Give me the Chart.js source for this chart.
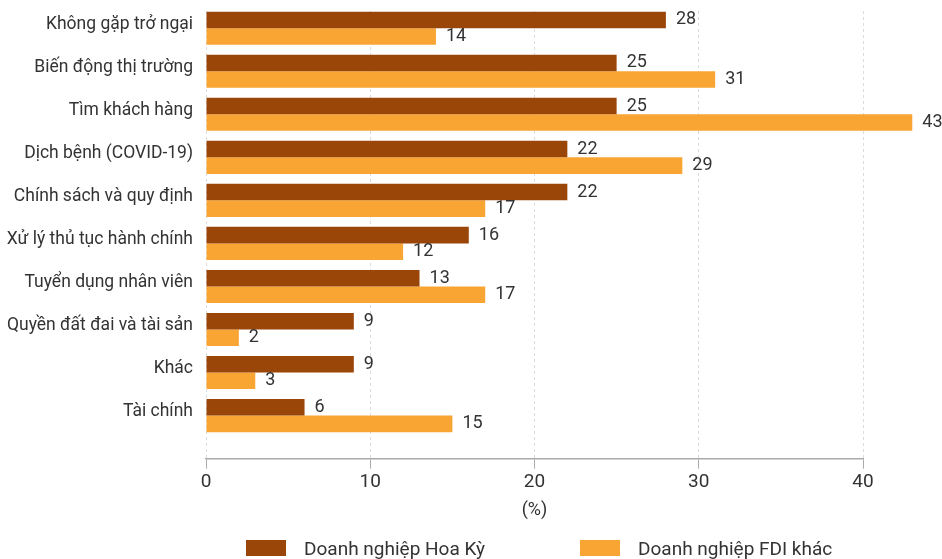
<!DOCTYPE html>
<html>
<head>
<meta charset="utf-8">
<script src="https://cdn.jsdelivr.net/npm/chart.js@4"></script>
<style>
  html, body { margin: 0; padding: 0; background: #fff; }
  #wrap { position: relative; width: 942px; height: 559px; }
  #legend { position: absolute; left: 0; top: 539px; width: 942px; height: 20px;
            font-family: Roboto, sans-serif; font-size: 19px; color: #333; }
  .item { position: absolute; top: 0; display: flex; align-items: center; height: 18px; white-space: nowrap; }
  .box { width: 40px; height: 16px; margin-right: 18px; }
</style>
</head>
<body>
<div id="wrap">
  <canvas id="obstacleChart"></canvas>
  <div id="legend"></div>
</div>
<script>
const categories = [
    'Không gặp trở ngại',
    'Biến động thị trường',
    'Tìm khách hàng',
    'Dịch bệnh (COVID-19)',
    'Chính sách và quy định',
    'Xử lý thủ tục hành chính',
    'Tuyển dụng nhân viên',
    'Quyền đất đai và tài sản',
    'Khác',
    'Tài chính'
];
const usFirms = [28, 25, 25, 22, 22, 16, 13, 9, 9, 6];
const otherFdi = [14, 31, 43, 29, 17, 12, 17, 2, 3, 15];
const xTicks = [0, 10, 20, 30, 40];
const seriesNames = ['Doanh nghiệp Hoa Kỳ', 'Doanh nghiệp FDI khác'];
const seriesColors = ['#9B4609', '#F9A533'];

const FONT = "Roboto, sans-serif";
const TEXT = '#333';

// draws the number right of each bar
const valueLabels = {
    id: 'valueLabels',
    afterDatasetsDraw(chart) {
        const ctx = chart.ctx;
        ctx.save();
        ctx.font = '18px ' + FONT;
        ctx.fillStyle = TEXT;
        ctx.textAlign = 'left';
        ctx.textBaseline = 'middle';
        chart.data.datasets.forEach((ds, i) => {
            chart.getDatasetMeta(i).data.forEach((bar, j) => {
                ctx.fillText(ds.data[j].x, bar.x + 10, bar.y);
            });
        });
        ctx.restore();
    }
};

const toPoints = arr => arr.map((v, i) => ({ x: v, y: i }));

const data = {
    datasets: [usFirms, otherFdi].map((arr, i) => ({
        label: seriesNames[i],
        data: toPoints(arr),
        backgroundColor: seriesColors[i],
        categoryPercentage: 0.77,
        barPercentage: 1,
        clip: false
    }))
};

const config = {
    type: 'bar',
    data: data,
    options: {
        indexAxis: 'y',
        responsive: true,
        maintainAspectRatio: false,
        animation: false,
        layout: { padding: { top: 11, left: 0, right: 79, bottom: 34 } },
        scales: {
            x: {
                type: 'linear',
                min: 0,
                max: 40,
                afterBuildTicks: scale => { scale.ticks = xTicks.map(v => ({ value: v })); },
                grid: {
                    color: '#dcdcdc',
                    lineWidth: 1,
                    tickLength: 10,
                    tickColor: '#aaa',
                    tickBorderDash: []
                },
                border: { display: true, color: '#aaa', width: 1.5, dash: [3, 3] },
                ticks: { color: TEXT, font: { family: FONT, size: 19 }, padding: 2 },
                title: {
                    display: true,
                    text: '(%)',
                    color: TEXT,
                    font: { family: FONT, size: 18 },
                    padding: { top: 4, bottom: 4 }
                }
            },
            y: {
                type: 'linear',
                reverse: true,
                offset: false,
                min: -0.4,
                max: 10,
                afterBuildTicks: scale => { scale.ticks = categories.map((c, i) => ({ value: i })); },
                afterFit: scale => {
                    scale.width = 206;
                    scale.paddingTop = 0;
                    scale.paddingBottom = 0;
                },
                grid: { display: false, drawTicks: false },
                border: { display: false },
                ticks: {
                    color: TEXT,
                    font: { family: FONT, size: 17.5 },
                    padding: 13,
                    labelOffset: -4,
                    autoSkip: false,
                    callback: v => categories[v]
                }
            }
        },
        plugins: {
            legend: { display: false },
            tooltip: { enabled: false }
        }
    },
    plugins: [valueLabels]
};

new Chart(document.getElementById('obstacleChart'), config);

// legend below the chart
const legendLeft = [246, 580];
const legend = document.getElementById('legend');
seriesNames.forEach((name, i) => {
    const item = document.createElement('div');
    item.className = 'item';
    item.style.left = legendLeft[i] + 'px';
    item.innerHTML = '<span class="box" style="background:' + seriesColors[i] + '"></span><span>' + name + '</span>';
    legend.appendChild(item);
});
</script>
</body>
</html>
